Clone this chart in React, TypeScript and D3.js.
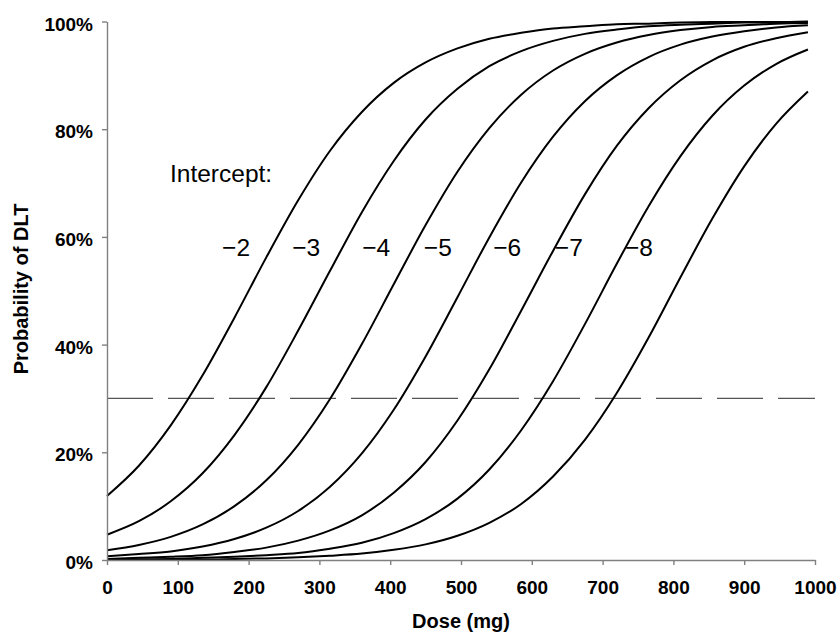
import React, { useRef, useEffect } from "react"
import * as d3 from "d3"

// dose grid (mg) the curves were read at
const doses = [0, 45, 90, 135, 180, 225, 270, 315, 360, 405, 450, 495, 540, 585, 630, 675, 720, 765, 810, 855, 900, 945, 990]

// probability of DLT (%) per intercept
const intercepts = [-2, -3, -4, -5, -6, -7, -8]
const pM2 = [11.9, 17.5, 25.0, 34.3, 45.0, 56.2, 66.8, 76.0, 83.2, 88.6, 92.4, 95.0, 96.8, 97.9, 98.7, 99.1, 99.5, 99.6, 99.8, 99.9, 99.9, 99.9, 100.0]
const pM3 = [4.7, 7.2, 10.9, 16.1, 23.2, 32.1, 42.6, 53.7, 64.6, 74.1, 81.8, 87.5, 91.7, 94.5, 96.4, 97.7, 98.5, 99.1, 99.4, 99.6, 99.8, 99.8, 99.9]
const pM4 = [1.8, 2.8, 4.3, 6.6, 10.0, 14.8, 21.4, 29.9, 40.1, 51.2, 62.2, 72.1, 80.2, 86.4, 90.9, 94.0, 96.1, 97.5, 98.4, 99.0, 99.3, 99.6, 99.7]
const pM5 = [0.7, 1.1, 1.6, 2.5, 3.9, 6.0, 9.1, 13.6, 19.8, 27.9, 37.8, 48.8, 59.9, 70.1, 78.6, 85.2, 90.0, 93.4, 95.7, 97.2, 98.2, 98.9, 99.3]
const pM6 = [0.2, 0.4, 0.6, 0.9, 1.5, 2.3, 3.6, 5.5, 8.3, 12.5, 18.2, 25.9, 35.4, 46.3, 57.4, 67.9, 76.9, 83.9, 89.1, 92.8, 95.3, 96.9, 98.0]
const pM7 = [0.1, 0.1, 0.2, 0.4, 0.6, 0.9, 1.3, 2.1, 3.2, 5.0, 7.6, 11.4, 16.8, 24.1, 33.2, 43.8, 55.0, 65.7, 75.0, 82.5, 88.1, 92.1, 94.8]
const pM8 = [0.0, 0.1, 0.1, 0.1, 0.2, 0.3, 0.5, 0.8, 1.2, 1.9, 2.9, 4.5, 6.9, 10.4, 15.5, 22.3, 31.0, 41.3, 52.5, 63.4, 73.1, 81.0, 87.0]
const series = [pM2, pM3, pM4, pM5, pM6, pM7, pM8]

// where the curve labels sit (dose at the label's right end)
const labelDoses = [202, 301, 400, 487, 585, 672, 771]
const labelLevel = 56.5
const targetLevel = 30

const xTicks = [0, 100, 200, 300, 400, 500, 600, 700, 800, 900, 1000]
const yTicks = [0, 20, 40, 60, 80, 100]

const FONT = "'Liberation Sans', Arial, sans-serif"

export default function App() {
  const xAxisRef = useRef<SVGGElement>(null)
  const yAxisRef = useRef<SVGGElement>(null)

  const width = 840,
    height = 635
  const margin = { top: 21.5, right: 25, bottom: 75, left: 107 }

  const x = d3
    .scaleLinear()
    .domain([0, 1000])
    .range([margin.left, width - margin.right])
  const y = d3
    .scaleLinear()
    .domain([0, 100])
    .range([height - margin.bottom, margin.top])

  const line = d3
    .line<number>()
    .x((d, i) => x(doses[i]))
    .y(d => y(d))
    .curve(d3.curveMonotoneX)

  useEffect(() => {
    const xg = d3.select(xAxisRef.current)
    xg.selectAll("*").remove()
    xg.call(
      d3
        .axisBottom(x)
        .tickValues(xTicks)
        .tickSize(5)
        .tickSizeOuter(0)
        .tickPadding(16)
        .tickFormat(d => String(d))
    )
    xg.selectAll("path, line").attr("stroke", "#808080").attr("stroke-width", 1.4)
    xg.selectAll("text")
      .attr("fill", "#000")
      .style("font-family", FONT)
      .style("font-size", "19px")
      .style("font-weight", "bold")

    const yg = d3.select(yAxisRef.current)
    yg.selectAll("*").remove()
    yg.call(
      d3
        .axisLeft(y)
        .tickValues(yTicks)
        .tickSize(5)
        .tickSizeOuter(0)
        .tickPadding(9)
        .tickFormat(d => d + "%")
    )
    yg.selectAll("path, line").attr("stroke", "#808080").attr("stroke-width", 1.4)
    yg.selectAll("text")
      .attr("fill", "#000")
      .attr("dy", "0.45em")
      .style("font-family", FONT)
      .style("font-size", "19px")
      .style("font-weight", "bold")
  }, []) // eslint-disable-line react-hooks/exhaustive-deps

  return (
    <svg
      width={width}
      height={height}
      style={{ position: "absolute", left: 0, top: 0, background: "#fff" }}
    >
      <line
        x1={x(0)}
        x2={x(1000)}
        y1={y(targetLevel)}
        y2={y(targetLevel)}
        stroke="#555"
        strokeWidth={1.2}
        strokeDasharray="46,15"
      />
      {series.map((s, i) => (
        <path
          key={intercepts[i]}
          d={line(s) || ""}
          fill="none"
          stroke="#000"
          strokeWidth={2}
          strokeLinejoin="round"
        />
      ))}
      <g ref={xAxisRef} transform={`translate(0,${y(0)})`} />
      <g ref={yAxisRef} transform={`translate(${x(0)},0)`} />

      <text x={x(89)} y={y(70.2)} fontFamily={FONT} fontSize={24.5} fill="#000">
        Intercept:
      </text>
      {intercepts.map((a, i) => (
        <text
          key={a}
          x={x(labelDoses[i])}
          y={y(labelLevel)}
          textAnchor="end"
          fontFamily={FONT}
          fontSize={24.5}
          fill="#000"
        >
          {"\u2212" + Math.abs(a)}
        </text>
      ))}

      <text
        x={461}
        y={628}
        textAnchor="middle"
        fontFamily={FONT}
        fontSize={20}
        fontWeight="bold"
      >
        Dose (mg)
      </text>
      <text
        transform="translate(28,289) rotate(-90)"
        textAnchor="middle"
        fontFamily={FONT}
        fontSize={20}
        fontWeight="bold"
      >
        Probability of DLT
      </text>
    </svg>
  )
}
